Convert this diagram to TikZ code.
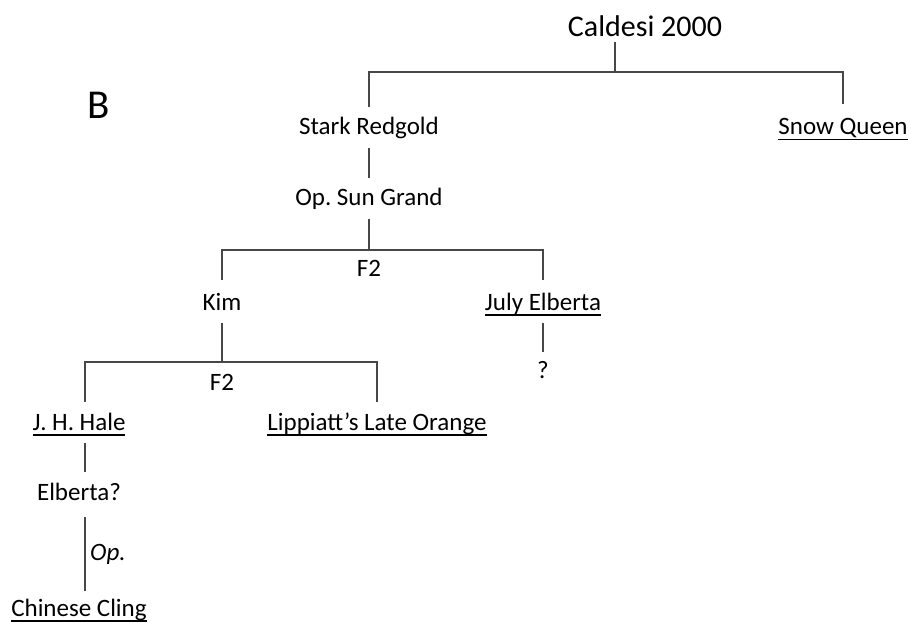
\documentclass[tikz,border=0pt]{standalone}
\usepackage{fontspec}
\setmainfont{Carlito}
\frenchspacing
\newcommand\ulx[1]{\setbox0\hbox{#1}\rlap{\rule[-5.5pt]{\wd0}{1.3pt}}\box0}
\begin{document}
\begin{tikzpicture}[x=1pt,y=-1pt,
  lbl/.style={anchor=base,inner sep=0pt,text height=28pt,text depth=13pt,font=\fontsize{25}{30}\selectfont\frenchspacing},
  plain/.style={anchor=base,inner sep=0pt,font=\fontsize{25}{30}\selectfont},
  conn/.style={draw=black!72,line width=1.3pt}]
\useasboundingbox (0,0) rectangle (911,623);
% title and panel letter
\node[anchor=base,inner sep=0pt,font=\fontsize{41}{48}\selectfont] (B) at (99,119) {B};
\node[anchor=base,inner sep=0pt,text depth=5pt,font=\fontsize{30}{36}\selectfont] (cald) at (645,37) {Caldesi 2000};
% nodes
\node[lbl] (stark) at (369,135) {Stark Redgold};
\node[lbl,text height=31pt] (snow) at (843,135) {\ulx{Snow Queen}};
\node[lbl] (sun) at (369,206) {Op. Sun Grand};
\node[plain] (f2a) at (369,276) {F2};
\node[lbl,text height=30pt] (kim) at (222,310) {Kim};
\node[lbl,text height=30pt] (july) at (543,310) {\ulx{July Elberta}};
\node[lbl,text height=26pt] (q) at (543,378) {?};
\node[plain] (f2b) at (222,390) {F2};
\node[lbl] (hale) at (79,430) {\ulx{J. H. Hale}};
\node[lbl] (lipp) at (377,430) {\ulx{Lippiatt’s Late Orange}};
\node[lbl,text depth=17pt] (elb) at (79,500) {Elberta?};
\node[lbl,text height=25pt] (cling) at (79,616) {\ulx{Chinese Cling}};
\node[anchor=base west,inner sep=0pt,font=\fontsize{25}{30}\selectfont\itshape] (op) at (90,560) {Op.};
% junctions
\coordinate (j0) at (615,72);
\coordinate (j1) at (369,250);
\coordinate (j2) at (222,362);
\coordinate (j3) at (85,362);
% connectors
\draw[conn] (j0 |- cald.south) -- (j0);
\draw[conn] (stark.north) -- (stark.north |- j0) -- (snow.north |- j0) -- (snow.north);
\draw[conn] (stark.south) -- (sun.north);
\draw[conn] (sun.south) -- (j1);
\draw[conn] (kim.north) -- (kim.north |- j1) -- (july.north |- j1) -- (july.north);
\draw[conn] (kim.south) -- (j2);
\draw[conn] (july.south) -- (q.north);
\draw[conn] (j3 |- hale.north) -- (j3) -- (lipp.north |- j3) -- (lipp.north);
\draw[conn] (j3 |- hale.south) -- (j3 |- elb.north);
\draw[conn] (j3 |- elb.south) -- (j3 |- cling.north);
\end{tikzpicture}
\end{document}
